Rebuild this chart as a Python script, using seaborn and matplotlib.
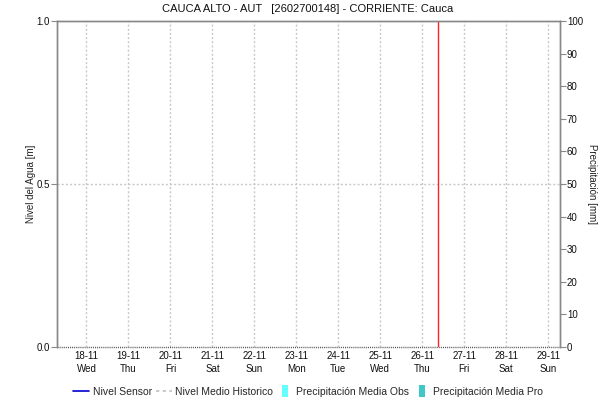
import matplotlib
matplotlib.use("Agg")
import matplotlib.pyplot as plt
from matplotlib.lines import Line2D
import seaborn as sns
import pandas as pd

sns.set_theme(style="white")
plt.rcParams['font.family'] = ['Liberation Sans', 'DejaVu Sans']

# ---- data ----
title = "CAUCA ALTO - AUT   [2602700148] - CORRIENTE: Cauca"
day_ticks = ["2020-11-18 00:00", "2020-11-19 00:00", "2020-11-20 00:00", "2020-11-21 00:00",
             "2020-11-22 00:00", "2020-11-23 00:00", "2020-11-24 00:00", "2020-11-25 00:00",
             "2020-11-26 00:00", "2020-11-27 00:00", "2020-11-28 00:00", "2020-11-29 00:00"]
hist_times = ["2020-11-17 07:00", "2020-11-18 00:00", "2020-11-19 00:00", "2020-11-20 00:00",
              "2020-11-21 00:00", "2020-11-22 00:00", "2020-11-23 00:00", "2020-11-24 00:00",
              "2020-11-25 00:00", "2020-11-26 00:00", "2020-11-27 00:00", "2020-11-28 00:00",
              "2020-11-29 00:00", "2020-11-29 06:40"]
hist_level = [0.0] * len(hist_times)
now_time = "2020-11-26 08:50"
x_start = "2020-11-17 07:00"
x_end = "2020-11-29 06:40"
level_ticks = [0.0, 0.5, 1.0]
precip_ticks = [0, 10, 20, 30, 40, 50, 60, 70, 80, 90, 100]
legend_labels = ["Nivel Sensor", "Nivel Medio Historico", "Precipitación Media Obs", "Precipitación Media Pro"]

fmt = "%Y-%m-%d %H:%M"
df_hist = pd.DataFrame({"t": pd.to_datetime(hist_times, format=fmt), "nivel": hist_level})
day_ts = pd.to_datetime(day_ticks, format=fmt)

fig = plt.figure(figsize=(6.16, 4.04), dpi=100)
ax = fig.add_axes([0.092, 0.141, 0.817, 0.807])
ax2 = ax.twinx()

spine_c = "#888888"
grid_c = "#c8c8c8"

# grid
for d in day_ts:
    ax.axvline(d, color=grid_c, lw=1.0, ls=(0, (1.5, 1.5)), zorder=0)
ax.axhline(0.5, color=grid_c, lw=1.0, ls=(0, (1.5, 1.5)), zorder=0)

# historical mean level
sns.lineplot(data=df_hist, x="t", y="nivel", ax=ax, color="#555555", lw=1.0,
             linestyle=(0, (0.75, 0.75)), legend=False, zorder=3, clip_on=False)

# now line
ax.axvline(pd.to_datetime(now_time, format=fmt), color="#ff2020", lw=1.0, zorder=4)

ax.set_xlim(pd.to_datetime(x_start, format=fmt), pd.to_datetime(x_end, format=fmt))
ax.set_ylim(0, 1)
ax2.set_ylim(0, 100)

ax.set_xticks(day_ts)
ax.set_xticklabels([d.strftime("%d-%m") + "\n" + d.strftime("%a") for d in day_ts],
                   fontsize=7, color="#111111", linespacing=1.35)
ax.set_yticks(level_ticks)
ax.set_yticklabels([f"{v:.1f}" for v in level_ticks], fontsize=7, color="#111111")
ax2.set_yticks(precip_ticks)
ax2.set_yticklabels([str(v) for v in precip_ticks], fontsize=7, color="#111111")

ax.tick_params(axis="x", length=0, pad=3)
ax.tick_params(axis="y", length=4, width=0.8, color=spine_c, pad=1, left=True)
ax2.tick_params(axis="y", length=4, width=0.8, color=spine_c, pad=1, right=True)

ax.set_xlabel("")
ax.set_ylabel("Nivel del Agua [m]", fontsize=7, color="#222222", labelpad=0)
ax2.set_ylabel("Precipitación [mm]", fontsize=7, color="#222222", rotation=-90, labelpad=10)

for a in (ax, ax2):
    for s in ("left", "right", "top"):
        a.spines[s].set_color(spine_c)
        a.spines[s].set_linewidth(1.0)
    a.spines["bottom"].set_visible(False)

fig.text(0.5, 1 - 9 / 404, title, fontsize=8, ha="center", va="center", color="#111111")

rect = [(-0.22, -0.5), (0.22, -0.5), (0.22, 0.5), (-0.22, 0.5)]
handles = [
    Line2D([0], [0], color="#0000cc", lw=1.2),
    Line2D([0], [0], color="#c0c0c0", lw=1.2, ls=(0, (2, 2))),
    Line2D([0], [0], lw=0, marker=rect, markersize=8.5, markerfacecolor="#66ffff",
           markeredgewidth=0),
    Line2D([0], [0], lw=0, marker=rect, markersize=8.5, markerfacecolor="#40c8c8",
           markeredgewidth=0),
]
fig.legend(handles, legend_labels, loc="center", bbox_to_anchor=(0.5, 0.03), ncol=4, frameon=False,
           fontsize=7.5, handlelength=1.55, handletextpad=0.3, columnspacing=0.4)

fig.savefig("out.png", dpi=100)
